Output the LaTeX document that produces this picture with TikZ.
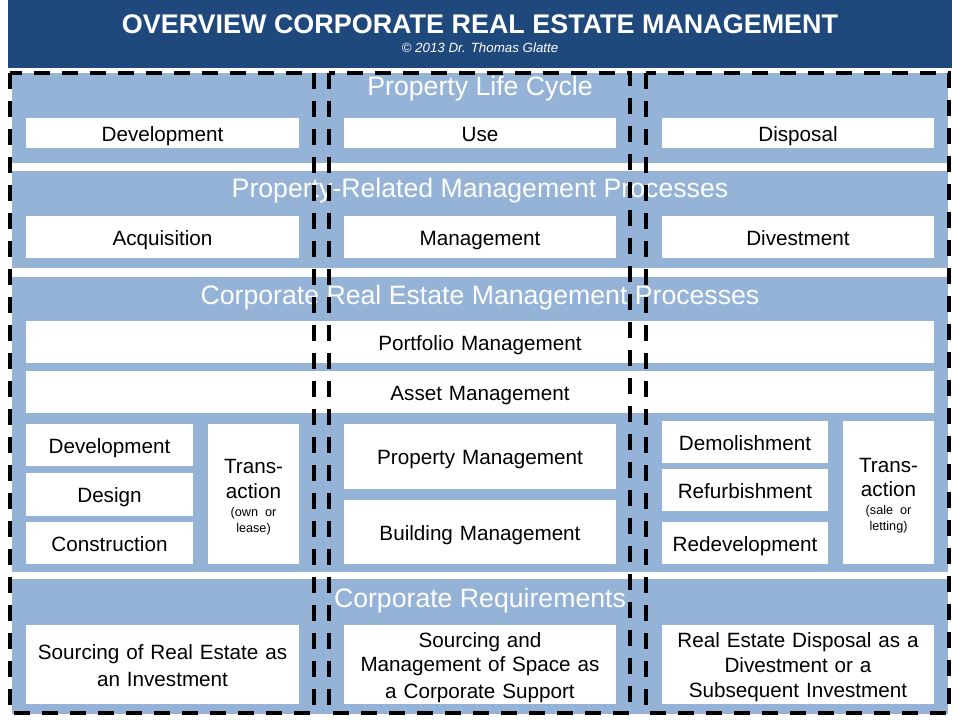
\documentclass[tikz,border=0pt]{standalone}
\usepackage{fontspec}
\setmainfont{Liberation Sans}
\definecolor{creNavy}{HTML}{1F497D}
\definecolor{creBand}{HTML}{95B3D7}
\usepackage{tikz}
\usetikzlibrary{positioning}
\newcommand\cremstrut{\rule[-3.5pt]{0pt}{19.2pt}}
\newcommand\cremsmall{\fontsize{9.5}{12}\selectfont}

\begin{document}
\begin{tikzpicture}[x=0.75pt, y=-0.75pt,
  band/.style={fill=creBand},
  cellbase/.style 2 args={fill=white, inner sep=0pt, align=center,
    minimum width=#1*0.75pt, minimum height=#2*0.75pt,
    text width=(#1-8)*0.75pt, font=\fontsize{15.5}{18.5}\selectfont},
  cell/.style 2 args={cellbase={#1}{#2},
    execute at begin node=\cremstrut, execute at end node=\cremstrut},
  transcell/.style 2 args={cellbase={#1}{#2}, execute at begin node=\cremstrut},
  bandtitle/.style={anchor=base, text=white, inner sep=0pt, font=\fontsize{20}{24}\selectfont},
  column/.style={draw=black, line width=3pt, dash pattern=on 12pt off 9pt}]
  \useasboundingbox[fill=white] (0,0) rectangle (960,720);

  \fill[creNavy] (8,0) rectangle (952,68);
  \node[anchor=base, inner sep=0pt, text=white, font=\fontsize{20.2}{24}\selectfont\bfseries] (title) at (480,34) {OVERVIEW CORPORATE REAL ESTATE MANAGEMENT};
  \node[anchor=base, inner sep=0pt, text=white, font=\fontsize{10}{12}\selectfont\itshape] (credit) at (480,53) {© 2013 Dr. Thomas Glatte};

  \fill[band] (12,73) rectangle (948,163);
  \fill[band] (12,171) rectangle (948,268);
  \fill[band] (12,277) rectangle (948,572);
  \fill[band] (12,579) rectangle (948,714);

  % life cycle
  \node[cell={273}{30}] (lifeDev) at (162.5,133) {Development};
  \node[cell={272}{30}] (lifeUse) at (480,133) {Use};
  \node[cell={272}{30}] (lifeDisp) at (798,133) {Disposal};

  % property-related processes
  \node[cell={273}{42}] (procAcq) at (162.5,237) {Acquisition};
  \node[cell={272}{42}] (procMgmt) at (480,237) {Management};
  \node[cell={272}{42}] (procDiv) at (798,237) {Divestment};

  % CREM processes
  \node[cell={908}{42}] (cremPortfolio) at (480,342) {Portfolio Management};
  \node[cell={908}{42}] (cremAsset) at (480,392) {Asset Management};
  \node[cell={167}{42}] (cremDev) at (109.5,445) {Development};
  \node[cell={167}{43}] (cremDesign) at (109.5,494.5) {Design};
  \node[cell={167}{42}] (cremConstr) at (109.5,543) {Construction};
  \node[transcell={91}{140}] (cremTransIn) at (253.5,494) {Trans-\\action\par
    \vspace{1.5pt}{\cremsmall (own or\\lease)\par}};
  \node[cell={272}{65}] (cremProperty) at (480,456.5) {Property Management};
  \node[cell={272}{64}] (cremBuilding) at (480,532) {Building Management};
  \node[cell={166}{42}] (cremDemol) at (745,442) {Demolishment};
  \node[cell={166}{42}] (cremRefurb) at (745,490) {Refurbishment};
  \node[cell={166}{42}] (cremRedev) at (745,543) {Redevelopment};
  \node[transcell={91}{143}] (cremTransOut) at (888.5,492.5) {Trans-\\action\par
    \vspace{1.5pt}{\cremsmall (sale or\\letting)\par}};

  % corporate requirements
  \node[cell={273}{79}] (reqInvest) at (162.5,664.5) {Sourcing of Real Estate as\\an Investment};
  \node[cell={272}{79}] (reqSpace) at (480,664.5) {Sourcing and\\Management of Space as\\a Corporate Support};
  \node[cell={272}{79}] (reqDisposal) at (798,664.5) {Real Estate Disposal as a\\Divestment or a\\Subsequent Investment};

  \node[bandtitle] (lifeTitle) at (480,96) {Property Life Cycle};
  \node[bandtitle] (procTitle) at (480,198) {Property-Related Management Processes};
  \node[bandtitle] (cremTitle) at (480,305) {Corporate Real Estate Management Processes};
  \node[bandtitle] (reqTitle) at (480,607) {Corporate Requirements};

  \draw[column] (10,73) rectangle (314,713);
  \draw[column] (329,73) rectangle (630,713);
  \draw[column] (646,73) rectangle (949,713);
\end{tikzpicture}
\end{document}
